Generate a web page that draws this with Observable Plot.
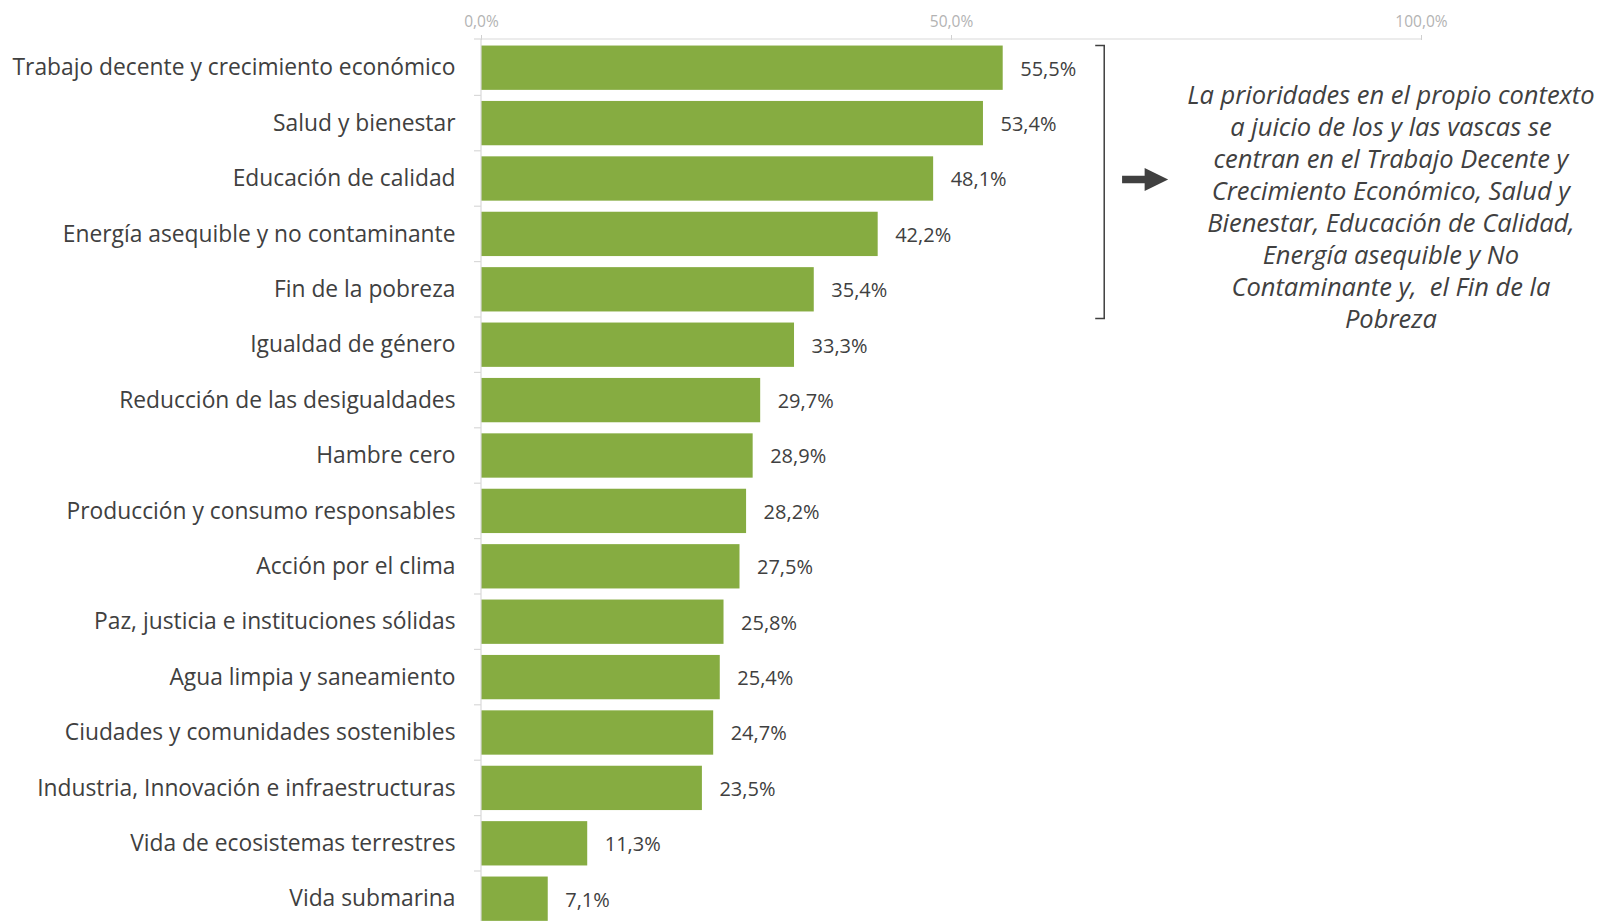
<!DOCTYPE html>
<html>
<head>
<meta charset="utf-8">
<script src="https://cdn.jsdelivr.net/npm/d3@7"></script>
<script src="https://cdn.jsdelivr.net/npm/@observablehq/plot@0.6"></script>
<style>
  html, body { margin: 0; padding: 0; background: #fff; }
  #chart { width: 1599px; height: 921px; overflow: hidden; }
  svg { font-family: "Open Sans", "Noto Sans", sans-serif; }
</style>
</head>
<body>
<div id="chart"></div>
<script>
const categories = [
  "Trabajo decente y crecimiento económico",
  "Salud y bienestar",
  "Educación de calidad",
  "Energía asequible y no contaminante",
  "Fin de la pobreza",
  "Igualdad de género",
  "Reducción de las desigualdades",
  "Hambre cero",
  "Producción y consumo responsables",
  "Acción por el clima",
  "Paz, justicia e instituciones sólidas",
  "Agua limpia y saneamiento",
  "Ciudades y comunidades sostenibles",
  "Industria, Innovación e infraestructuras",
  "Vida de ecosistemas terrestres",
  "Vida submarina"
];
const values = [55.5, 53.4, 48.1, 42.2, 35.4, 33.3, 29.7, 28.9, 28.2, 27.5, 25.8, 25.4, 24.7, 23.5, 11.3, 7.1];
const xTicks = [0, 50, 100];
const noteLines = [
  "La prioridades en el propio contexto",
  "a juicio de los y las vascas se",
  "centran en el Trabajo Decente y",
  "Crecimiento Económico, Salud y",
  "Bienestar, Educación de Calidad,",
  "Energía asequible y No",
  "Contaminante y,  el Fin de la",
  "Pobreza"
];

const data = categories.map((c, i) => ({cat: c, value: values[i]}));
const fmt = v => v.toFixed(1).replace(".", ",") + "%";
const ink = "#404040";

const W = 1599, H = 921;
const plot = Plot.plot({
  width: W,
  height: H,
  marginLeft: 481,
  marginRight: 178,
  marginTop: 39,
  marginBottom: 0,
  style: {background: "#fff", overflow: "visible"},
  x: {domain: [0, 100], axis: null},
  y: {domain: categories, range: [40, 926.4], round: false, paddingInner: 0.2, paddingOuter: 0.1, axis: null},
  marks: [
    Plot.barX(data, {x: "value", y: "cat", fill: "#86ac41"}),
    Plot.text(data, {x: "value", y: "cat", text: d => fmt(d.value), dx: 17, dy: 1, textAnchor: "start", fontSize: 20, fill: ink}),
    Plot.axisX(xTicks, {anchor: "top", label: null, tickSize: 5, tickPadding: 8, tickFormat: fmt, fontSize: 15.5, stroke: "#d0d0d0", fill: "#b3b3b3"}),
    Plot.axisY({anchor: "left", label: null, tickSize: 0, tickPadding: 26, fontSize: 22.8, fill: ink})
  ]
});
document.getElementById("chart").appendChild(plot);

const svg = d3.select(plot);
const xs = plot.scale("x"), ys = plot.scale("y");
const x0 = xs.apply(0), x100 = xs.apply(100);
const step = ys.step, bw = ys.bandwidth;
const gap = step - bw;

// axis lines
svg.append("line").attr("x1", x0).attr("x2", x100).attr("y1", 39).attr("y2", 39)
  .attr("stroke", "#d9d9d9").attr("stroke-width", 1.2);
svg.append("line").attr("x1", x0).attr("x2", x0).attr("y1", 39).attr("y2", H)
  .attr("stroke", "#d9d9d9").attr("stroke-width", 1.2);
// category boundary ticks
categories.forEach((c, i) => {
  if (i === 0) return;
  const yb = ys.apply(c) - gap / 2;
  svg.append("line").attr("x1", x0 - 7).attr("x2", x0).attr("y1", yb).attr("y2", yb)
    .attr("stroke", "#d9d9d9").attr("stroke-width", 1.2);
});
svg.append("line").attr("x1", x0 - 7).attr("x2", x0).attr("y1", 39).attr("y2", 39)
  .attr("stroke", "#d9d9d9").attr("stroke-width", 1.2);

// bracket around top 5
const bTop = ys.apply(categories[0]);
const bBot = ys.apply(categories[4]) + bw + 7;
const bx = xs.apply(66.3);
svg.append("path")
  .attr("d", `M${bx - 9},${bTop} H${bx} V${bBot} H${bx - 9}`)
  .attr("fill", "none").attr("stroke", ink).attr("stroke-width", 1.5);

// arrow
const ay = ys.apply(categories[2]) + bw / 2 + 1;
const ax1 = xs.apply(68.2), ax2 = xs.apply(70.6), ax3 = xs.apply(73.1);
svg.append("path")
  .attr("d", `M${ax1},${ay - 3.8} H${ax2} V${ay - 11.5} L${ax3},${ay} L${ax2},${ay + 11.5} V${ay + 3.8} H${ax1} Z`)
  .attr("fill", ink);

// note text
const nx = xs.apply(96.8);
const note = svg.append("text")
  .attr("text-anchor", "middle")
  .attr("font-style", "italic")
  .attr("font-size", 25.5)
  .attr("fill", ink)
  .attr("style", "white-space: pre");
noteLines.forEach((t, i) => {
  note.append("tspan").attr("x", nx).attr("y", 95 + i * 32).attr("dy", "0.35em").text(t);
});
</script>
</body>
</html>
